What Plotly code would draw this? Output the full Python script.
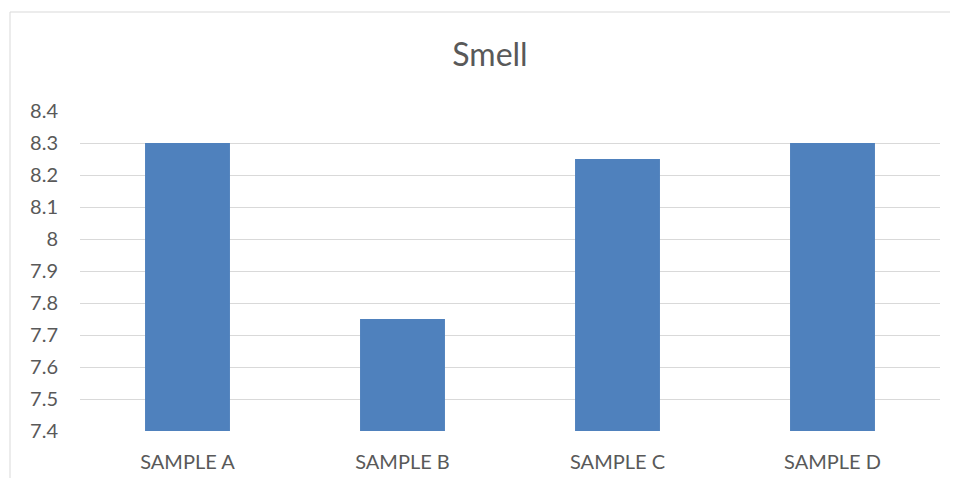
import plotly.graph_objects as go

categories = ["SAMPLE A", "SAMPLE B", "SAMPLE C", "SAMPLE D"]
smell_values = [8.3, 7.75, 8.25, 8.3]
tick_values = [7.4, 7.5, 7.6, 7.7, 7.8, 7.9, 8.0, 8.1, 8.2, 8.3, 8.4]
tick_labels = ["7.4", "7.5", "7.6", "7.7", "7.8", "7.9", "8", "8.1", "8.2", "8.3", "8.4"]

FONT = "Lato, Liberation Sans, sans-serif"
TXT = "#595959"

# page body has an 8px margin; figure sized to fit the 958x486 window
W, H = 942, 470
OFF = 8
L, T = 80 - OFF, 111 - OFF
R = W - (940 - OFF)
B = H - (431 - OFF)
PW, PH = W - L - R, H - T - B

fig = go.Figure(go.Bar(
    x=categories, y=smell_values,
    marker=dict(color="#4F81BD", line=dict(width=0)),
    width=0.395,
))

fig.update_layout(
    width=W, height=H,
    margin=dict(l=L, r=R, t=T, b=B, autoexpand=False),
    paper_bgcolor="white", plot_bgcolor="white",
    showlegend=False,
    title=dict(text="Smell", x=(490 - OFF) / W, xref="container", xanchor="center",
               y=1 - (55 - OFF) / H, yref="container", yanchor="middle",
               font=dict(family=FONT, size=32, color=TXT)),
    xaxis=dict(showgrid=False, showline=False, ticks="", automargin=False,
               ticklabelstandoff=17,
               tickfont=dict(family=FONT, size=20, color=TXT)),
    yaxis=dict(range=[7.4, 8.4], tickvals=tick_values, ticktext=tick_labels,
               showgrid=True, gridcolor="#D9D9D9", gridwidth=1, automargin=False,
               zeroline=False, showline=False, ticks="",
               ticklabelstandoff=21,
               tickfont=dict(family=FONT, size=20, color=TXT)),
    shapes=[dict(type="rect", xref="paper", yref="paper",
                 x0=(10 - 80) / PW, x1=1.2, y0=-0.5, y1=(431 - 12) / PH,
                 line=dict(color="#D9D9D9", width=1), fillcolor="rgba(0,0,0,0)",
                 layer="below")],
)

fig.write_html("out.html")
